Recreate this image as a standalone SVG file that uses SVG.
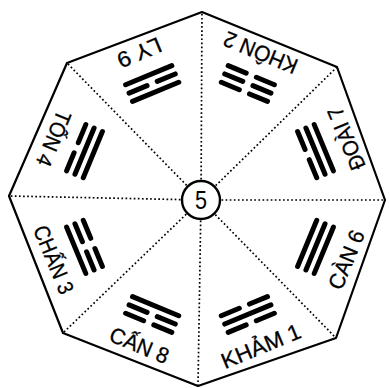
<svg xmlns="http://www.w3.org/2000/svg" xmlns:xlink="http://www.w3.org/1999/xlink" width="390" height="388" viewBox="0 0 390 388">
<style>
.oct{fill:#fff;stroke:#000;stroke-width:2.2;stroke-linejoin:round}
.sp{stroke:#000;stroke-width:1.7;stroke-dasharray:1.7 2.4;fill:none}
.lb{font-family:"Liberation Sans",Arial,sans-serif;font-size:22px;text-anchor:middle;fill:#000;stroke:#000;stroke-width:0.3}
.ln{stroke:#000;stroke-width:5;stroke-linecap:round;fill:none}
</style>
<defs>
<path id="yang" class="ln" d="M-25,0H25"/>
<path id="yin" class="ln" d="M-25,0H-5.5M5.5,0H25"/>
</defs>
<rect width="390" height="388" fill="#fff"/>
<g id="frame">
<polygon class="oct" points="202,12 337,67 385,200 336,338 198,386 63,333 9,196 67,63"/>
</g>
<g id="connectors">
<line class="sp" x1="201" y1="200" x2="202" y2="12"/>
<line class="sp" x1="201" y1="200" x2="337" y2="67"/>
<line class="sp" x1="201" y1="200" x2="385" y2="200"/>
<line class="sp" x1="201" y1="200" x2="336" y2="338"/>
<line class="sp" x1="201" y1="200" x2="198" y2="386"/>
<line class="sp" x1="201" y1="200" x2="63" y2="333"/>
<line class="sp" x1="201" y1="200" x2="9" y2="196"/>
<line class="sp" x1="201" y1="200" x2="67" y2="63"/>
</g>
<g id="center">
<circle cx="201" cy="200" r="19" fill="#fff" stroke="#000" stroke-width="2.4"/>
<text x="201" y="209" font-family="Liberation Sans, Arial, sans-serif" font-size="25" text-anchor="middle" textLength="12" lengthAdjust="spacingAndGlyphs">5</text>
</g>
<g id="ly9" transform="translate(200,199) rotate(157.5)">
<use xlink:href="#yang" y="116"/><use xlink:href="#yin" y="125"/><use xlink:href="#yang" y="134"/>
<text class="lb" x="0" y="166" textLength="46" lengthAdjust="spacingAndGlyphs">LY 9</text>
</g>
<g id="khon2" transform="translate(200,199) rotate(202.5)">
<use xlink:href="#yin" y="116"/><use xlink:href="#yin" y="125"/><use xlink:href="#yin" y="134"/>
<text class="lb" x="0" y="166" textLength="78" lengthAdjust="spacingAndGlyphs">KHÔN 2</text>
</g>
<g id="doai7" transform="translate(200,199) rotate(247.5)">
<use xlink:href="#yin" y="116"/><use xlink:href="#yang" y="125"/><use xlink:href="#yang" y="134"/>
<text class="lb" x="0" y="166" textLength="66" lengthAdjust="spacingAndGlyphs">ĐOÀI 7</text>
</g>
<g id="can6" transform="translate(200,199) rotate(292.5)">
<use xlink:href="#yang" y="116"/><use xlink:href="#yang" y="125"/><use xlink:href="#yang" y="134"/>
<text class="lb" x="0" y="166" textLength="62" lengthAdjust="spacingAndGlyphs">CÀN 6</text>
</g>
<g id="kham1" transform="translate(200,199) rotate(337.5)">
<use xlink:href="#yin" y="116"/><use xlink:href="#yang" y="125"/><use xlink:href="#yin" y="134"/>
<text class="lb" x="0" y="167" textLength="84" lengthAdjust="spacingAndGlyphs">KHẢM 1</text>
</g>
<g id="can8" transform="translate(200,199) rotate(22.5)">
<use xlink:href="#yang" y="116"/><use xlink:href="#yin" y="125"/><use xlink:href="#yin" y="134"/>
<text class="lb" x="0" y="166" textLength="62" lengthAdjust="spacingAndGlyphs">CẤN 8</text>
</g>
<g id="chan3" transform="translate(200,199) rotate(67.5)">
<use xlink:href="#yin" y="116"/><use xlink:href="#yin" y="125"/><use xlink:href="#yang" y="134"/>
<text class="lb" x="0" y="166" textLength="72" lengthAdjust="spacingAndGlyphs">CHẤN 3</text>
</g>
<g id="ton4" transform="translate(200,199) rotate(112.5)">
<use xlink:href="#yang" y="116"/><use xlink:href="#yang" y="125"/><use xlink:href="#yin" y="134"/>
<text class="lb" x="0" y="166" textLength="58" lengthAdjust="spacingAndGlyphs">TỐN 4</text>
</g>
</svg>
